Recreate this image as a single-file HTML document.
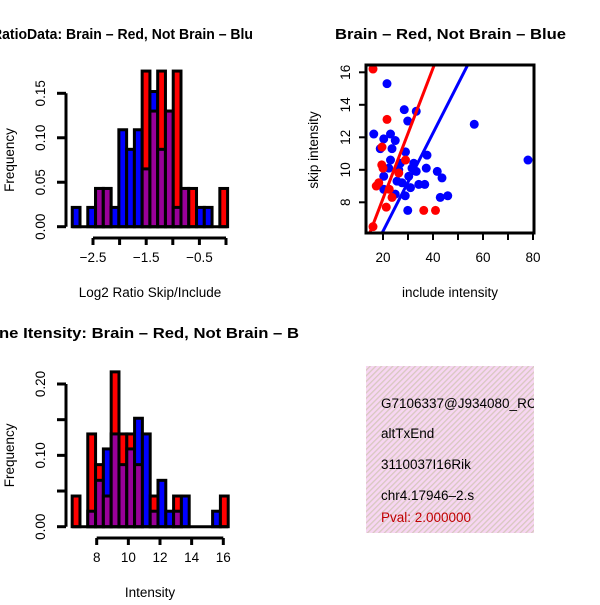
<!DOCTYPE html>
<html><head><meta charset="utf-8"><style>
body{margin:0;background:#fff}
svg text{font-family:"Liberation Sans",sans-serif}
</style></head><body>
<svg id="c" width="600" height="600" xmlns="http://www.w3.org/2000/svg">
<defs>
<pattern id="hatch" width="4" height="4" patternUnits="userSpaceOnUse" patternTransform="rotate(45)">
<rect width="4" height="4" fill="#f7d6f2"/><rect width="1.3" height="4" fill="#d8c8c0"/>
</pattern>
</defs>
<text x="-8" y="39" font-size="15" font-weight="bold" textLength="261" lengthAdjust="spacingAndGlyphs">RatioData: Brain – Red, Not Brain – Blu</text>
<text x="335" y="39" font-size="15" font-weight="bold" textLength="231" lengthAdjust="spacingAndGlyphs">Brain – Red, Not Brain – Blue</text>
<text x="-1" y="338" font-size="15" font-weight="bold" textLength="300" lengthAdjust="spacingAndGlyphs">ne Itensity: Brain – Red, Not Brain – B</text>
<g id="h1"></g><g id="h2"></g><g id="sc"></g>
<rect x="366" y="366" width="168" height="167" fill="url(#hatch)"/>
<g font-size="13.5">
<text x="381" y="408">G7106337@J934080_RC</text>
<text x="381" y="438">altTxEnd</text>
<text x="381" y="469">3110037I16Rik</text>
<text x="381" y="500">chr4.17946–2.s</text>
<text x="381" y="522" fill="#c00000">Pval: 2.000000</text>
</g>
<rect x="534" y="366" width="66" height="170" fill="#fff"/>
</svg>
<script>
// Histogram 1 data (Log2 ratio)
const h1Start = -2.89;
const h1Width = 0.146;
const h1Blue = [0.0217,0,0.0217,0.043,0.043,0.0217,0.109,0.087,0.109,0.065,0.152,0.087,0.13,0.0217,0.043,0,0.0217,0.0217,0,0];
const h1Red  = [0,0,0,0.043,0.043,0,0,0,0,0.175,0.13,0.175,0.13,0.175,0.043,0.043,0,0,0,0.043];
const h1XTicks = [-2.5,-2,-1.5,-1,-0.5,0];
const h1XLabels = ["−2.5","","−1.5","","−0.5",""];
const h1YTicks = [0,0.05,0.10,0.15];
const h1YLabels = ["0.00","0.05","0.10","0.15"];
// Histogram 2 data (Intensity)
const h2Start = 6.45;
const h2Width = 0.493;
const h2Blue = [0,0,0.0217,0.065,0.109,0.13,0.087,0.109,0.152,0.13,0.0217,0.065,0.0217,0.0217,0.043,0,0,0,0.0217,0];
const h2Red  = [0.043,0,0.13,0.087,0.043,0.217,0.13,0.13,0.087,0,0.043,0,0,0.043,0,0,0,0,0,0.043];
const h2XTicks = [8,10,12,14,16];
const h2XLabels = ["8","10","12","14","16"];
const h2YTicks = [0,0.05,0.10,0.15,0.20];
const h2YLabels = ["0.00","","0.10","","0.20"];
// Scatter data
const redX = [16,21.6,16,17.3,20,21.3,36.3,41,26.3,19.6,18.3,23.6,29,19.5,22.5];
const redY = [16.2,13.1,6.5,9.0,10.1,7.7,7.5,7.5,9.8,11.4,9.2,8.3,10.6,10.3,8.8];
const blueX = [21.6,16.3,20.3,23,24.9,18.9,28.5,33.3,29.9,56.5,78,23.6,37.6,29,23,26.9,32.3,37.3,41.7,43.6,20.3,25.6,30.3,34.3,36.7,31,20.3,24.9,28.9,42.9,45.9,29.9,33.3,26.3,27.6,31.6,22.3];
const blueY = [15.3,12.2,11.9,12.2,11.8,11.3,13.7,13.6,13.0,12.8,10.6,11.3,10.9,11.1,10.6,10.4,10.4,10.1,9.9,9.5,9.6,9.3,9.6,9.1,9.1,8.9,8.8,8.5,8.4,8.3,8.4,7.5,9.9,10.0,9.2,10.1,10.1];
const redFit = [0.21,0.401];
const blueFit = [0.18,0.302];
const scXTicks = [20,40,60,80];
const scYTicks = [8,10,12,14,16];

const NS="http://www.w3.org/2000/svg";
const FS=13.5;
function mk(parent,tag,attrs,text){const e=document.createElementNS(NS,tag);for(const k in attrs)e.setAttribute(k,attrs[k]);if(text!==undefined)e.textContent=text;parent.appendChild(e);return e;}

function hist(g,start,w,blue,red,xs,ys,xTicks,xLabels,yTicks,yLabels,xAxisY,yAxisX,xlab,xlabY,xlabX){
  for(let i=0;i<blue.length;i++){
    const x0=xs(start+i*w), x1=xs(start+(i+1)*w);
    const b=blue[i], r=red[i];
    const mx=Math.max(b,r), mn=Math.min(b,r);
    if(mx>0){
      const big=mk(g,'rect',{x:x0,y:ys(mx),width:x1-x0,height:ys(0)-ys(mx),fill:b>=r?'#0000ff':'#ff0000',stroke:'#000','stroke-width':3});
      
      
    }
    if(mn>0){
      const ov=mk(g,'rect',{x:x0,y:ys(mn),width:x1-x0,height:ys(0)-ys(mn),fill:'#990099',stroke:'#000','stroke-width':3});
      
      
    }
  }
  mk(g,'line',{x1:xs(start),x2:xs(start+blue.length*w),y1:ys(0),y2:ys(0),stroke:'#000','stroke-width':3});
  const xa=mk(g,'g',{});
  
  
  mk(xa,'line',{x1:xs(xTicks[0]),x2:xs(xTicks[xTicks.length-1]),y1:xAxisY,y2:xAxisY,stroke:'#000','stroke-width':3});
  xTicks.forEach((t,i)=>{mk(xa,'line',{x1:xs(t),x2:xs(t),y1:xAxisY,y2:xAxisY+7,stroke:'#000','stroke-width':3});
    if(xLabels[i]) mk(xa,'text',{x:xs(t),y:xAxisY+24,'text-anchor':'middle','font-size':FS},xLabels[i]);});
  const ya=mk(g,'g',{});
  
  
  mk(ya,'line',{x1:yAxisX,x2:yAxisX,y1:ys(yTicks[0]),y2:ys(yTicks[yTicks.length-1]),stroke:'#000','stroke-width':3});
  yTicks.forEach((t,i)=>{mk(ya,'line',{x1:yAxisX-9,x2:yAxisX,y1:ys(t),y2:ys(t),stroke:'#000','stroke-width':3});
    if(yLabels[i]) mk(ya,'text',{x:0,y:0,'text-anchor':'middle','font-size':FS,transform:`translate(${yAxisX-21},${ys(t)}) rotate(-90)`},yLabels[i]);});
  const xl=mk(g,'text',{x:xlabX,y:xlabY,'text-anchor':'middle','font-size':FS},xlab);
  
  
  const yl=mk(g,'text',{x:0,y:0,'text-anchor':'middle','font-size':FS,transform:`translate(14,${(ys(yTicks[0])+ys(yTicks[yTicks.length-1]))/2}) rotate(-90)`},'Frequency');
  
  
}
const xs1=v=>93+(v+2.5)*(133/2.5);
const ys1=v=>226.7-v*(133.4/0.15);
hist(document.getElementById('h1'),h1Start,h1Width,h1Blue,h1Red,xs1,ys1,h1XTicks,h1XLabels,h1YTicks,h1YLabels,238,66,'Log2 Ratio Skip/Include',297,150);
const xs2=v=>96.7+(v-8)*(126.6/8);
const ys2=v=>526.7-v*(142.7/0.2);
hist(document.getElementById('h2'),h2Start,h2Width,h2Blue,h2Red,xs2,ys2,h2XTicks,h2XLabels,h2YTicks,h2YLabels,538,66,'Intensity',597,150);

const sc=document.getElementById('sc');
const sx=v=>383+(v-20)*2.5;
const sy=v=>72.3+(16-v)*16.25;
const clip=mk(sc,'clipPath',{id:'scclip'}); mk(clip,'rect',{x:366,y:65,width:168,height:168});
const pts=mk(sc,'g',{'clip-path':'url(#scclip)'});
blueX.forEach((x,i)=>{const c=mk(pts,'circle',{cx:sx(x),cy:sy(blueY[i]),r:4.5,fill:'#0000ff'});
  
  });
redX.forEach((x,i)=>{const c=mk(pts,'circle',{cx:sx(x),cy:sy(redY[i]),r:4.5,fill:'#ff0000'});
  
  });
[[redFit,'#ff0000','red-fit-line'],[blueFit,'#0000ff','blue-fit-line']].forEach(([f,col,nm])=>{
  const l=mk(pts,'line',{x1:sx(0),y1:sy(f[0]),x2:sx(100),y2:sy(f[0]+f[1]*100),stroke:col,'stroke-width':3});
  
  });
const box=mk(sc,'rect',{x:366,y:65,width:168,height:168,fill:'none',stroke:'#000','stroke-width':3});


scXTicks.forEach(t=>{mk(sc,'line',{x1:sx(t),x2:sx(t),y1:233,y2:240,stroke:'#000','stroke-width':2});
  mk(sc,'text',{x:sx(t),y:262,'text-anchor':'middle','font-size':FS},String(t));});
[30,50,70].forEach(t=>mk(sc,'line',{x1:sx(t),x2:sx(t),y1:233,y2:240,stroke:'#000','stroke-width':2}));
scYTicks.forEach(t=>{mk(sc,'line',{x1:359,x2:366,y1:sy(t),y2:sy(t),stroke:'#000','stroke-width':2});
  mk(sc,'text',{x:0,y:0,'text-anchor':'middle','font-size':FS,transform:`translate(350,${sy(t)}) rotate(-90)`},String(t));});
const sxl=mk(sc,'text',{x:450,y:297,'text-anchor':'middle','font-size':FS},'include intensity');


const syl=mk(sc,'text',{x:0,y:0,'text-anchor':'middle','font-size':FS,transform:'translate(318,150) rotate(-90)'},'skip intensity');


</script>
</body></html>
